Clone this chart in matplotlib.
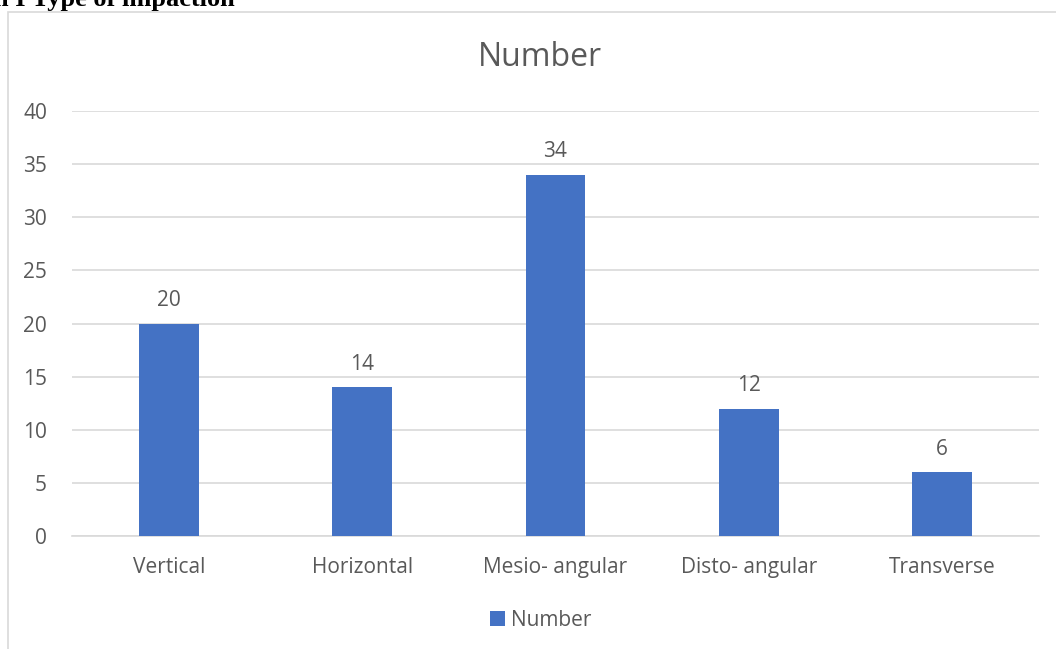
import matplotlib
matplotlib.use('Agg')
from matplotlib import pyplot as plt
from matplotlib.patches import Rectangle
import numpy as np

categories = ['Vertical', 'Horizontal', 'Mesio- angular', 'Disto- angular', 'Transverse']
values = [20, 14, 34, 12, 6]
yticks = [0, 5, 10, 15, 20, 25, 30, 35, 40]

bar_color = '#4472C4'
text_color = '#595959'
grid_color = '#D9D9D9'

plt.rcParams['font.family'] = ['Open Sans', 'DejaVu Sans']

W, H = 1056, 649
fig = plt.figure(figsize=(W / 100, H / 100), dpi=100)

# chart frame (document crop: only left and top edges visible)
fig.patches.append(Rectangle((8 / W, -0.1), 2, 1.1 - 12 / H, transform=fig.transFigure,
                             fill=False, edgecolor='#D9D9D9', linewidth=1.2))

# caption above the chart, cut off by the crop in the source too
fig.text(-6 / W, 1 - 6 / H, 'h I Type of impaction', family='Liberation Serif',
         fontweight='bold', fontsize=19, color='black', va='baseline', ha='left')

ax = fig.add_axes([72 / W, 1 - 536 / H, (1039 - 72) / W, (536 - 111) / H])
x = np.arange(len(categories))
bars = ax.bar(x, values, width=0.31, color=bar_color, zorder=3, label='Number')

ax.set_xlim(-0.5, len(categories) - 0.5)
ax.set_ylim(0, 40)
ax.set_yticks(yticks)
ax.set_xticks(x)
ax.set_xticklabels(categories)
ax.tick_params(axis='both', length=0, labelsize=15, colors=text_color)
ax.tick_params(axis='y', pad=18)
ax.tick_params(axis='x', pad=15)
ax.grid(axis='y', color=grid_color, linewidth=1.2, zorder=0)
for s in ['top', 'right', 'left']:
    ax.spines[s].set_visible(False)
ax.spines['bottom'].set_color(grid_color)
ax.spines['bottom'].set_linewidth(1.2)

for b, v in zip(bars, values):
    ax.annotate(str(v), (b.get_x() + b.get_width() / 2, v), xytext=(0, 9),
                textcoords='offset points', ha='center', va='bottom',
                fontsize=15, color=text_color)

fig.text(540 / W, 1 - 57 / H, 'Number', ha='center', va='center',
         fontsize=23, color=text_color)

ax.legend(loc='center', bbox_to_anchor=(541 / W, 1 - 620 / H),
          bbox_transform=fig.transFigure, frameon=False, fontsize=15,
          handlelength=0.7, handleheight=0.7, handletextpad=0.3,
          labelcolor=text_color)

fig.savefig('out.png', dpi=100, facecolor='white')
